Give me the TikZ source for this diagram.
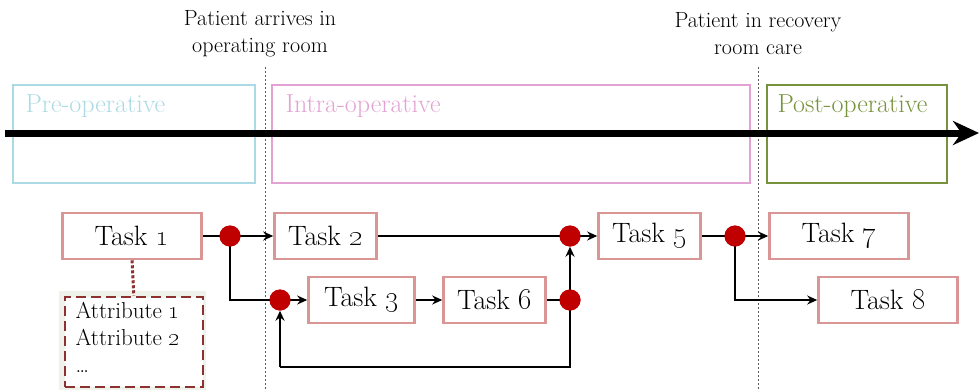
\documentclass[tikz,border=0pt]{standalone}
\usepackage{tikz}
\usetikzlibrary{arrows.meta,positioning,calc}
\definecolor{precol}{RGB}{172,218,228}
\definecolor{intracol}{RGB}{226,162,212}
\definecolor{postcol}{RGB}{118,146,60}
\definecolor{taskcol}{RGB}{217,150,148}
\definecolor{dotcol}{RGB}{192,0,0}
\definecolor{attrcol}{RGB}{140,48,48}
\definecolor{glowcol}{RGB}{238,242,234}
\tikzset{
  mytask/.style = {rectangle, draw=taskcol, line width=2.6pt, fill=white, minimum height=46pt, inner sep=0pt, font=\fontsize{28}{30}\selectfont},
  myphase/.style = {line width=2.6pt},
  myphasetext/.style = {anchor=west, font=\fontsize{26}{30}\selectfont},
  mydot/.style = {circle, fill=dotcol, minimum size=21pt, inner sep=0pt},
  myflow/.style = {-{Stealth[length=10pt,width=9pt]}, line width=2.2pt},
  myline/.style = {line width=2.2pt},
  mymark/.style = {dashed, dash pattern=on 2pt off 2pt, line width=0.8pt, gray!70!black},
  myhead/.style = {align=center, font=\fontsize{22}{27}\selectfont},
}
\newcommand{\tasklbl}[1]{Task \oldstylenums{#1}}

\begin{document}
\begin{tikzpicture}[x=1pt,y=-1pt]
\useasboundingbox (0,0) rectangle (979,391);
% phase markers
\coordinate (m1top) at (265,67);
\coordinate (m1bot) at (265,391);
\coordinate (m2top) at (758,67);
\coordinate (m2bot) at (758,391);
\draw[mymark] (m1top) -- (m1bot);
\draw[mymark] (m2top) -- (m2bot);
\node[myhead] (arrive) at (260,34) {Patient arrives in\\operating room};
\node[myhead] (recover) at (758,34) {Patient in recovery\\room care};
% phases
\draw[myphase, precol] (13,85) rectangle (255,183);
\node[myphasetext, text=precol] (pre) at (22,106) {Pre-operative};
\draw[myphase, intracol] (272,85) rectangle (750,183);
\node[myphasetext, text=intracol] (intra) at (282,106) {Intra-operative};
\draw[myphase, postcol] (767,85) rectangle (947,183);
\node[myphasetext, text=postcol] (post) at (774,106) {Post-operative};
\coordinate (tstart) at (5,133);
\coordinate (tend) at (979,133);
\draw[-{Stealth[length=26pt,width=24pt]}, line width=7pt] (tstart) -- (tend);
% tasks
\node[mytask, minimum width=139pt] (t1) at (132,236) {\tasklbl{1}};
\node[mytask, minimum width=102pt] (t2) at (325.5,236) {\tasklbl{2}};
\node[mytask, minimum width=106pt] (t3) at (361.5,300) {\tasklbl{3}};
\node[mytask, minimum width=102pt] (t6) at (494.5,300) {\tasklbl{6}};
\node[mytask, minimum width=102pt] (t5) at (649.5,236) {\tasklbl{5}};
\node[mytask, minimum width=139pt] (t7) at (839,236) {\tasklbl{7}};
\node[mytask, minimum width=139pt] (t8) at (888,300) {\tasklbl{8}};
% junctions
\node[mydot] (j1) at (230,236) {};
\node[mydot] (j2) at (280,300) {};
\node[mydot] (j3) at (570,300) {};
\node[mydot] (j4) at (570,236) {};
\node[mydot] (j5) at (735,236) {};
\coordinate (loopr) at (570,367);
\coordinate (loopl) at (280,367);
\draw[myline] (t1) -- (j1.center);
\draw[myflow] (j1.center) -- (t2);
\draw[myline] (j1.center) |- (j2.center);
\draw[myflow] (j2.center) -- (t3);
\draw[myflow] (t3) -- (t6);
\draw[myline] (t6) -- (j3.center);
\draw[myflow] (j3.center) -- (j4.south);
\draw[myline] (j3.center) -- (loopr) -- (loopl);
\draw[myflow] (loopl) -- (j2.south);
\draw[myline] (t2) -- (j4.center);
\draw[myflow] (j4.center) -- (t5);
\draw[myline] (t5) -- (j5.center);
\draw[myflow] (j5.center) -- (t7);
\draw[myflow] (j5.center) |- (t8);
\foreach \j in {j1,j2,j3,j4,j5} \node[mydot] at (\j) {};
% attributes
\draw[line width=6pt, glowcol] (62,294) rectangle (203,387);
\node[draw=attrcol, dashed, dash pattern=on 10pt off 5pt, line width=2.6pt, fill=white, minimum width=138pt, minimum height=90pt, anchor=north west, inner sep=0pt] (attr) at (63.5,295.5) {};
\node[anchor=north west, align=left, font=\fontsize{23}{27}\selectfont] (attrtxt) at (72,299) {Attribute \oldstylenums{1}\\Attribute \oldstylenums{2}\\\dots};
\draw[attrcol, dotted, line width=3pt] (t1.south) -- (attr.north);
\end{tikzpicture}
\end{document}
